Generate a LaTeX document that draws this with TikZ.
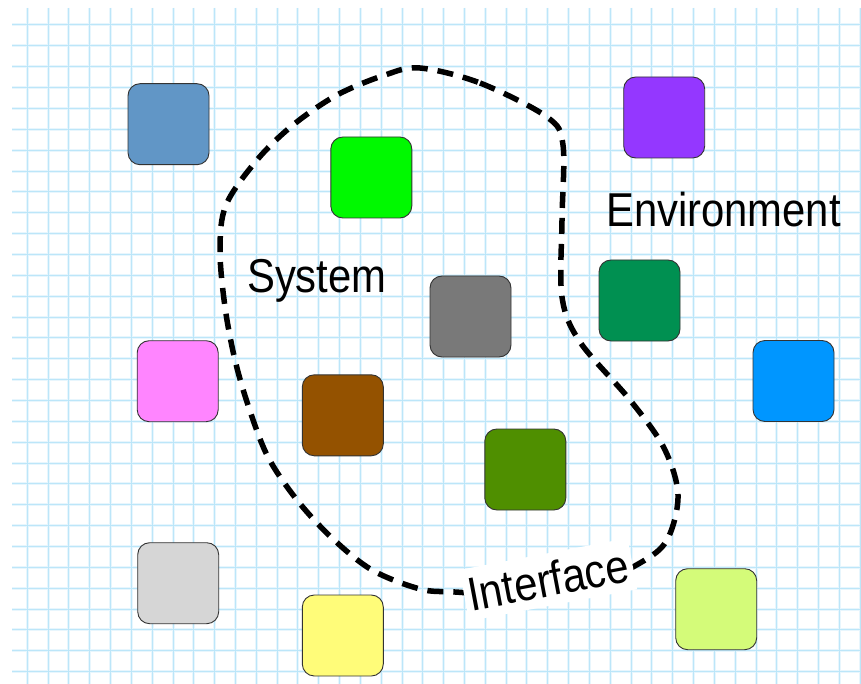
\documentclass[tikz,border=0pt]{standalone}
\usepackage{fontspec}
\setmainfont{Liberation Sans}
\begin{document}
\begin{tikzpicture}[x=1pt,y=-1pt,
  tile/.style={draw=black!80, line width=0.9pt, rounded corners=12pt,
    minimum width=81pt, minimum height=81pt, inner sep=0pt},
  label/.style={inner sep=0pt, font=\fontsize{47.5}{57}\selectfont},
  boundary/.style={line width=5.5pt, dash pattern=on 16pt off 10pt}]
\definecolor{gridglow}{RGB}{232,246,253}
\definecolor{gridline}{RGB}{188,230,249}
\definecolor{steel}{RGB}{97,150,198}
\definecolor{spring}{RGB}{0,249,0}
\definecolor{grape}{RGB}{148,55,255}
\definecolor{steelgray}{RGB}{121,121,121}
\definecolor{moss}{RGB}{0,144,81}
\definecolor{bubblegum}{RGB}{255,133,255}
\definecolor{mocha}{RGB}{148,82,0}
\definecolor{aqua}{RGB}{0,150,255}
\definecolor{fern}{RGB}{79,143,0}
\definecolor{silver}{RGB}{214,214,214}
\definecolor{banana}{RGB}{255,252,121}
\definecolor{honeydew}{RGB}{212,251,121}

% page and graph paper
\fill[white] (0,0) rectangle (861,684);
\useasboundingbox (0,0) rectangle (861,684);
\begin{scope}
  \clip (12,8) rectangle (861,684);
  \foreach \k in {0,...,40} {
    \draw[gridglow, line width=3pt] ({27.3+\k*20.82},8) -- ({27.3+\k*20.82},684);
  }
  \foreach \k in {0,...,31} {
    \draw[gridglow, line width=3pt] (12,{25+\k*20.86}) -- (861,{25+\k*20.86});
  }
  \foreach \k in {0,...,40} {
    \draw[gridline, line width=1pt] ({27.3+\k*20.82},8) -- ({27.3+\k*20.82},684);
  }
  \foreach \k in {0,...,31} {
    \draw[gridline, line width=1pt] (12,{25+\k*20.86}) -- (861,{25+\k*20.86});
  }
\end{scope}

% elements
\node[tile, fill=steel]      (a) at (168.5,124.2) {};
\node[tile, fill=spring]     (b) at (371.3,177.5) {};
\node[tile, fill=grape]      (c) at (664.2,117.5) {};
\node[tile, fill=steelgray]  (d) at (470.5,316.5) {};
\node[tile, fill=moss]       (e) at (639.5,300.5) {};
\node[tile, fill=bubblegum]  (f) at (177.7,381.2) {};
\node[tile, fill=mocha]      (g) at (342.8,415.3) {};
\node[tile, fill=aqua]       (h) at (793.5,381.0) {};
\node[tile, fill=fern]       (i) at (525.3,469.5) {};
\node[tile, fill=silver]     (j) at (178.2,583.2) {};
\node[tile, fill=banana]     (k) at (342.8,635.5) {};
\node[tile, fill=honeydew]   (l) at (716.2,609.2) {};

% system boundary
\draw[boundary] plot[smooth cycle, tension=0.55] coordinates {
  (420,68) (480,83) (547,117) (563,145) (562,220) (562,297) (580,342)
  (630,400) (664,448) (678,495) (667,540) (640,563) (590,585) (520,595)
  (455,592) (420,589) (372,570) (332,538) (297,500) (268,457) (249,408)
  (235,360) (225,307) (220,250) (226,205) (257,160) (293,125) (337,95)
  (385,75)};

% labels
\node[label, anchor=base west] (sys) at (247,293) {\scalebox{0.88}[1]{System}};
\node[label, anchor=base west] (env) at (606,227) {\scalebox{0.88}[1]{Environment}};
\node[label, fill=white, rotate=10.7, minimum width=171pt, minimum height=52pt]
  (ifc) at (548.3,579.6) {\scalebox{0.88}[1]{Interface}};
\end{tikzpicture}
\end{document}
